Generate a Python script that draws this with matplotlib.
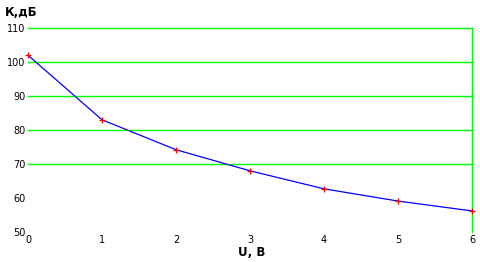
import matplotlib.pyplot as plt

U = [0, 1, 2, 3, 4, 5, 6]
K_dB = [102, 83, 74.2, 68, 62.7, 59.1, 56.2]
y_ticks = [50, 60, 70, 80, 90, 100, 110]
grid_levels = [70, 80, 90, 100, 110]

fig = plt.figure(figsize=(4.81, 2.62), dpi=100, facecolor="white")
ax = fig.add_axes([28 / 481, 30 / 262, 444 / 481, 204 / 262])

for lv in grid_levels:
    ax.axhline(lv, color="#00FF00", linewidth=1.0, zorder=1, clip_on=False)
ax.axvline(6, color="#00FF00", linewidth=1.0, zorder=1, clip_on=False)

ax.plot(U, K_dB, color="#0000FF", linewidth=0.9, zorder=3, clip_on=False)
ax.plot(U, K_dB, linestyle="none", marker="+", color="#FF0000",
        markersize=4, markeredgewidth=0.9, zorder=4, clip_on=False)

ax.set_xlim(0, 6)
ax.set_ylim(50, 110)
for s in ax.spines.values():
    s.set_visible(False)
ax.set_xticks(U)
ax.set_yticks(y_ticks)
ax.tick_params(length=0, labelsize=7, pad=2)
ax.set_xticklabels([str(u) for u in U])

fig.text(5 / 481, 1 - 12 / 262, "К,дБ", fontsize=8.5, fontweight="bold",
         va="center", ha="left")
fig.text(252 / 481, 1 - 252 / 262, "U, В", fontsize=8.5, fontweight="bold",
         va="center", ha="center")

fig.savefig("out.png", dpi=100, facecolor="white")
